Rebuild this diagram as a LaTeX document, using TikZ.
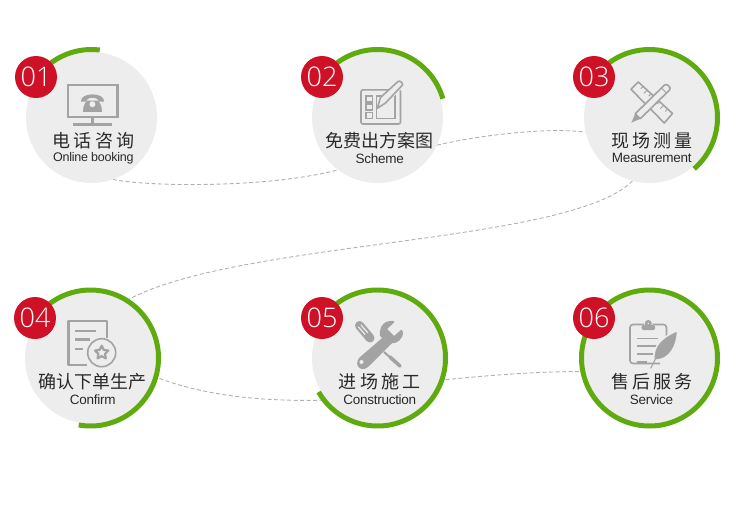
\documentclass[tikz,border=0pt]{standalone}
\usepackage{fontspec}
\usetikzlibrary{backgrounds}
\setmainfont{Liberation Sans}
\newfontfamily\cjk[LetterSpace=0]{Noto Sans CJK SC}
\newfontfamily\cjkw[LetterSpace=18]{Noto Sans CJK SC}
\newfontfamily\latinf[LetterSpace=-2]{Liberation Sans}
\newfontfamily\numf{Open Sans Light}
\definecolor{ringg}{HTML}{5FAB0F}
\definecolor{badger}{HTML}{CE1126}
\definecolor{bgc}{HTML}{EDEDED}
\definecolor{icong}{HTML}{A3A3A3}
\definecolor{dashg}{HTML}{B0B0B0}
\definecolor{inkc}{HTML}{2A2A2A}
\tikzset{
 disc/.style={circle,fill=bgc,minimum size=131pt,inner sep=0pt,outer sep=0pt},
 badge/.style={circle,fill=badger,minimum size=42pt,inner sep=0pt,outer sep=0pt,text=white,font={\numf\fontsize{27}{27}\selectfont}},
 cnlabel/.style={text=inkc,inner sep=0pt,font={\cjk\fontsize{18}{18}\selectfont}},
 cnwide/.style={text=inkc,inner sep=0pt,font={\cjkw\fontsize{18}{18}\selectfont}},
 enlabel/.style={text=inkc,inner sep=0pt,font={\latinf\fontsize{13.5}{14}\selectfont}},
 ringline/.style={draw=ringg,line width=5pt},
 linkline/.style={draw=dashg,line width=0.9pt,dash pattern=on 4pt off 2.5pt},
 iconline/.style={draw=icong,line width=1.6pt},
 iconthick/.style={draw=icong,line width=2.6pt},
}
\begin{document}
\begin{tikzpicture}[x=1pt,y=-1pt]
\useasboundingbox (0,0) rectangle (750,514);
% discs
\node[disc] (c1) at (91.5,117.5) {};
\node[disc] (c2) at (377.5,117.5) {};
\node[disc] (c3) at (649.5,117.5) {};
\node[disc] (c4) at (90.5,358) {};
\node[disc] (c5) at (377.5,358) {};
\node[disc] (c6) at (649.5,358) {};
% connectors
\begin{scope}[on background layer]
\draw[linkline] (c1.-71) .. controls (150,187) and (270,188) .. (c2.233);
\draw[linkline] (c2.-25) .. controls (480,135) and (550,127) .. (c3.193);
\draw[linkline] (c3.-105) .. controls (570,245) and (230,240) .. (c4.59);
\draw[linkline] (c4.-16) .. controls (200,395) and (260,402) .. (c5.220);
\draw[linkline] (c5.-20) .. controls (480,376) and (540,371) .. (c6.192);
\end{scope}
% rings
\draw[ringline] (c1.center) ++(83:68pt) arc[start angle=83,end angle=150,radius=68pt];
\draw[ringline] (c2.center) ++(16:68pt) arc[start angle=16,end angle=150,radius=68pt];
\draw[ringline] (c3.center) ++(-49:68pt) arc[start angle=-49,end angle=150,radius=68pt];
\draw[ringline] (c4.center) ++(-100:68pt) arc[start angle=-100,end angle=150,radius=68pt];
\draw[ringline] (c5.center) ++(-150:68pt) arc[start angle=-150,end angle=150,radius=68pt];
\draw[ringline] (c6.center) circle[radius=68pt];
% badges
\node[badge] (b1) at (36,77) {01};
\node[badge] (b2) at (322,77) {02};
\node[badge] (b3) at (594,77) {03};
\node[badge] (b4) at (35,318) {04};
\node[badge] (b5) at (322,318) {05};
\node[badge] (b6) at (594,318) {06};
% labels
\node[cnwide] (t1) at (93.6,141) {电话咨询};
\node[enlabel,font={\latinf\fontsize{12.5}{14}\selectfont}] (e1) at (93.3,158) {Online booking};
\node[cnlabel] (t2) at (379,141) {免费出方案图};
\node[enlabel] (e2) at (379.8,159) {Scheme};
\node[cnwide] (t3) at (652,141) {现场测量};
\node[enlabel] (e3) at (651.7,158) {Measurement};
\node[cnlabel] (t4) at (92.8,382) {确认下单生产};
\node[enlabel] (e4) at (92.8,399.3) {Confirm};
\node[cnwide] (t5) at (379.8,382) {进场施工};
\node[enlabel] (e5) at (379.8,399.3) {Construction};
\node[cnwide] (t6) at (652,382) {售后服务};
\node[enlabel] (e6) at (651.5,399.3) {Service};
% icon 1: monitor with telephone
\draw[iconthick,line width=2.2pt] (67.6,84.8) rectangle (117.4,116.8);
\draw[iconthick] (92.5,117) -- (92.5,123);
\draw[iconline,line width=2.4pt] (73,124.3) -- (112,124.3);
\fill[icong] (81,101.5) .. controls (80,92) and (105,92) .. (104,101.5) -- (98.5,101.5) .. controls (99,96.5) and (86,96.5) .. (86.5,101.5) -- cycle;
\fill[icong] (83,111.8) .. controls (83,105) and (86,101) .. (88,100.5) -- (97,100.5) .. controls (99,101) and (102,105) .. (102,111.8) -- cycle;
\fill[bgc] (92.4,104.2) circle[radius=3pt];
% icon 2: tablet and pen
\draw[iconline,rounded corners=2pt] (361,89.8) rectangle (400.5,124);
\foreach \yy in {95.8,104,112.3} \draw[iconline,line width=1.4pt] (365.8,\yy) rectangle (372.3,\yy+6);
\draw[iconline,line width=1.4pt] (376.3,95.8) rectangle (395,118.3);
\fill[bgc] (377.5,107.5) -- (381,97) -- (398.5,80.5) -- (404,86) -- (386,104.5) -- cycle;
\draw[iconline,line join=round] (377.3,108.3) -- (380.5,97.5) -- (398,81.5) .. controls (400,80) and (403,83) .. (402.5,85) -- (385.5,103) -- cycle;
% icon 3: ruler and pencil
\draw[iconline,line join=round] (638.3,82) -- (631,89.3) -- (664.3,123) -- (672.5,113.5) -- cycle;
\foreach \px/\py/\qx/\qy in {643/86.5/640.8/88.7,647/90.2/643.8/93.4,651/93.9/648.8/96.1,655/97.6/653/99.6,659.5/101.8/657.2/104,663.5/105.5/660.3/108.7,667.5/109.2/665.3/111.4}
  \draw[icong,line width=1pt] (\px,\py) -- (\qx,\qy);
\fill[bgc] (631.3,122.7) -- (635.2,113.8) -- (664.5,85) -- (669.5,90) -- (640.2,118.8) -- cycle;
\draw[iconline,line join=round] (635.2,113.8) -- (664.5,85) .. controls (667,83) and (672,88) .. (669.5,90) -- (640.2,118.8) -- cycle;
\fill[icong] (631.3,122.7) -- (635.2,113.8) -- (640.2,118.8) -- cycle;
\draw[icong,line width=1pt] (661.5,88) -- (666.5,93);
% icon 4: document with star seal
\draw[iconthick,line join=round] (107,338) -- (107,320.8) -- (68.5,320.8) -- (68.5,365) -- (87,365);
\draw[iconthick] (75,331) -- (95.7,331);
\draw[iconthick] (75,339.3) -- (90,339.3);
\draw[iconthick] (75,349) -- (82.7,349);
\draw[iconline] (101.7,352.7) circle[radius=14pt];
\begin{scope}[shift={(101.7,352.7)}]
\draw[iconthick,line width=2.2pt,line join=round] (0,-7) -- (2.06,-2.83) -- (6.66,-2.16) -- (3.33,1.08) -- (4.11,5.66) -- (0,3.5) -- (-4.11,5.66) -- (-3.33,1.08) -- (-6.66,-2.16) -- (-2.06,-2.83) -- cycle;
\end{scope}
% icon 5: wrench and screwdriver
\draw[icong,line width=9pt,line cap=round] (359.5,325.5) -- (370,338);
\draw[bgc,line width=1.2pt,line cap=round] (358.5,327) -- (365,334.5);
\draw[bgc,line width=1.2pt,line cap=round] (361,325) -- (367.5,332.5);
\draw[icong,line width=2pt] (384,352) -- (392,359);
\draw[icong,line width=3.6pt,line cap=round] (390,357) -- (400,366);
\fill[icong] (388,333) -- (359,358) .. controls (353,367) and (363,373) .. (369,366) -- (396,339) -- cycle;
\fill[icong] (386,322) .. controls (391,320) and (396,321) .. (394,322.5) -- (387,329) -- (394,336) -- (401,330) .. controls (403,329) and (403.5,334) .. (402,337) .. controls (399,343) and (392,345) .. (387,342) -- (380,336) .. controls (379,329) and (382,324) .. (386,322) -- cycle;
\fill[bgc] (361.5,362) circle[radius=2pt];
% icon 6: clipboard and feather
\draw[iconline,rounded corners=3pt] (644,324.5) -- (630,324.5) -- (630,363.5) -- (660,363.5);
\draw[iconline,rounded corners=3pt] (652.5,324.5) -- (666.5,324.5) -- (666.5,340);
\fill[icong,rounded corners=1.5pt] (641.7,325) rectangle (655,330);
\draw[iconline,line width=2.4pt] (648.3,323.5) circle[radius=2.2pt];
\draw[iconline] (636.7,338.3) -- (658.3,338.3);
\draw[iconline] (636.7,346) -- (658.3,346);
\draw[iconline] (636.7,354) -- (653.3,354);
\draw[iconline] (636.7,361.7) -- (646.7,361.7);
\fill[icong,draw=bgc,line width=1.4pt] (654,360) .. controls (653,347) and (660,338) .. (677.5,330.5) .. controls (677.5,345) and (670,361) .. (654,360) -- cycle;
\draw[icong,line width=1.1pt] (650.7,368.3) -- (660,350);
\end{tikzpicture}
\end{document}
